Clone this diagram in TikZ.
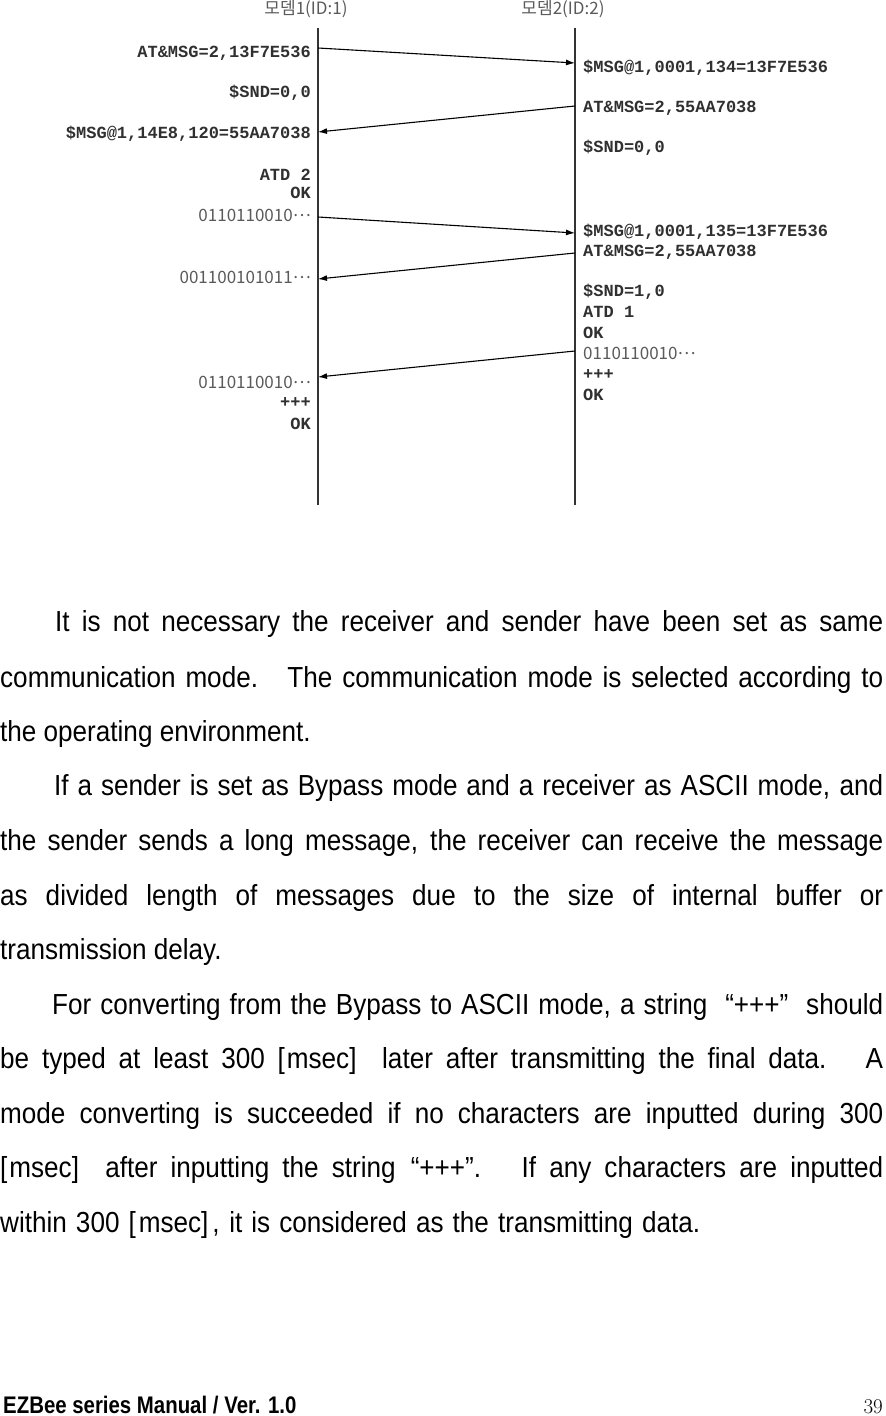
\documentclass[tikz,border=0pt]{standalone}
\usepackage{fontspec}
\usetikzlibrary{arrows.meta}
\newfontfamily\bodyfont{Liberation Sans}[FakeStretch=0.9]
\newfontfamily\footfont{Liberation Sans Bold}[FakeStretch=0.85]
\newfontfamily\cmdfont{Liberation Mono}
\newfontfamily\krfont{Noto Sans CJK KR}
\definecolor{lifegray}{HTML}{333333}
\definecolor{cmdgray}{HTML}{303030}
\definecolor{lightgray}{HTML}{5A5A5A}
\newcommand{\dotsK}{\raisebox{0.28em}{…}}
\tikzset{
  lifeline/.style={draw=lifegray, line width=2pt},
  msg/.style={draw=black, line width=1.1pt, -{Latex[length=9pt,width=6pt]}},
  cmdL/.style={anchor=base east, inner sep=0pt, text=cmdgray, font=\cmdfont\bfseries\fontsize{17}{20}\selectfont},
  cmdR/.style={anchor=base west, inner sep=0pt, text=cmdgray, font=\cmdfont\bfseries\fontsize{17}{20}\selectfont},
  grayL/.style={anchor=base east, inner sep=0pt, text=lightgray, font=\krfont\fontsize{17}{20}\selectfont},
  grayR/.style={anchor=base west, inner sep=0pt, text=lightgray, font=\krfont\fontsize{17}{20}\selectfont},
  head/.style={inner sep=0pt, text=lightgray, font=\krfont\fontsize{17}{20}\selectfont},
  body/.style={anchor=base west, inner sep=0pt, font=\bodyfont\fontsize{29}{34}\selectfont},
}
\begin{document}
\begin{tikzpicture}[x=1pt,y=-1pt]
\useasboundingbox (0,0) rectangle (886,1416);
% headers
\node[head] (h1) at (306,9) {모뎀1(ID:1)};
\node[head] (h2) at (563,9) {모뎀2(ID:2)};
% lifelines
\coordinate (L0) at (318,28); \coordinate (L1) at (318,505);
\coordinate (R0) at (575,28); \coordinate (R1) at (575,505);
\draw[lifeline] (L0) -- (L1);
\draw[lifeline] (R0) -- (R1);
% arrow endpoints
\coordinate (a1s) at (318,48);  \coordinate (a1e) at (575,63);
\coordinate (a2s) at (575,106); \coordinate (a2e) at (318,132);
\coordinate (a3s) at (318,217); \coordinate (a3e) at (575,233);
\coordinate (a4s) at (575,253); \coordinate (a4e) at (318,279);
\coordinate (a5s) at (575,351); \coordinate (a5e) at (318,377);
\draw[msg] (a1s) -- (a1e);
\draw[msg] (a2s) -- (a2e);
\draw[msg] (a3s) -- (a3e);
\draw[msg] (a4s) -- (a4e);
\draw[msg] (a5s) -- (a5e);
% left labels
\node[cmdL] (l1) at (311,57) {AT\&MSG=2,13F7E536};
\node[cmdL] (l2) at (311,97) {\$SND=0,0};
\node[cmdL] (l3) at (311,138) {\$MSG@1,14E8,120=55AA7038};
\node[cmdL] (l4) at (311,180) {ATD 2};
\node[cmdL] (l5) at (311,198) {OK};
\node[grayL] (l6) at (311,221) {0110110010\dotsK};
\node[grayL] (l7) at (311,283) {001100101011\dotsK};
\node[grayL] (l8) at (311,388) {0110110010\dotsK};
\node[cmdL] (l9) at (311,407) {+++};
\node[cmdL] (l10) at (311,429) {OK};
% right labels
\node[cmdR] (r1) at (583,72) {\$MSG@1,0001,134=13F7E536};
\node[cmdR] (r2) at (583,112) {AT\&MSG=2,55AA7038};
\node[cmdR] (r3) at (583,152) {\$SND=0,0};
\node[cmdR] (r4) at (583,236) {\$MSG@1,0001,135=13F7E536};
\node[cmdR] (r5) at (583,256) {AT\&MSG=2,55AA7038};
\node[cmdR] (r6) at (583,296) {\$SND=1,0};
\node[cmdR] (r7) at (583,317) {ATD 1};
\node[cmdR] (r8) at (583,338) {OK};
\node[grayR] (r9) at (583,359) {0110110010\dotsK};
\node[cmdR] (r10) at (583,379) {+++};
\node[cmdR] (r11) at (583,400) {OK};
% body text
\node[body] (t1) at (55,631) {\makebox[828pt][s]{It is not necessary the receiver and sender have been set as same}};
\node[body] (t2) at (0,687) {\makebox[883pt][s]{communication mode.\ \ \ The communication mode is selected according to}};
\node[body] (t3) at (0,741) {the operating environment.};
\node[body] (t4) at (54,795) {\makebox[829pt][s]{If a sender is set as Bypass mode and a receiver as ASCII mode, and}};
\node[body] (t5) at (0,850) {\makebox[883pt][s]{the sender sends a long message, the receiver can receive the message}};
\node[body] (t6) at (0,905) {\makebox[883pt][s]{as divided length of messages due to the size of internal buffer or}};
\node[body] (t7) at (0,959) {transmission delay.};
\node[body] (t8) at (52,1014) {\makebox[831pt][s]{For converting from the Bypass to ASCII mode, a string \ “+++” \ should}};
\node[body] (t9) at (0,1068) {\makebox[883pt][s]{be typed at least 300 [\kern2pt msec] \ later after transmitting the final data. \ A}};
\node[body] (t10) at (0,1123) {\makebox[883pt][s]{mode converting is succeeded if no characters are inputted during 300}};
\node[body] (t11) at (0,1177) {\makebox[883pt][s]{[\kern2pt msec] \ after inputting the string \kern2pt“+++”. \ If any characters are inputted}};
\node[body] (t12) at (0,1232) {\makebox[700pt][s]{within 300 [\kern3pt msec]\kern4pt, it is considered as the transmitting data.}};
% footer
\node[anchor=base west, inner sep=0pt, font=\footfont\fontsize{24}{28}\selectfont] (f1) at (3,1413) {EZBee series Manual / Ver. 1.0};
\node[anchor=base east, inner sep=0pt, font=\fontsize{21}{24}\selectfont] (f2) at (883,1413) {39};
\end{tikzpicture}
\end{document}
